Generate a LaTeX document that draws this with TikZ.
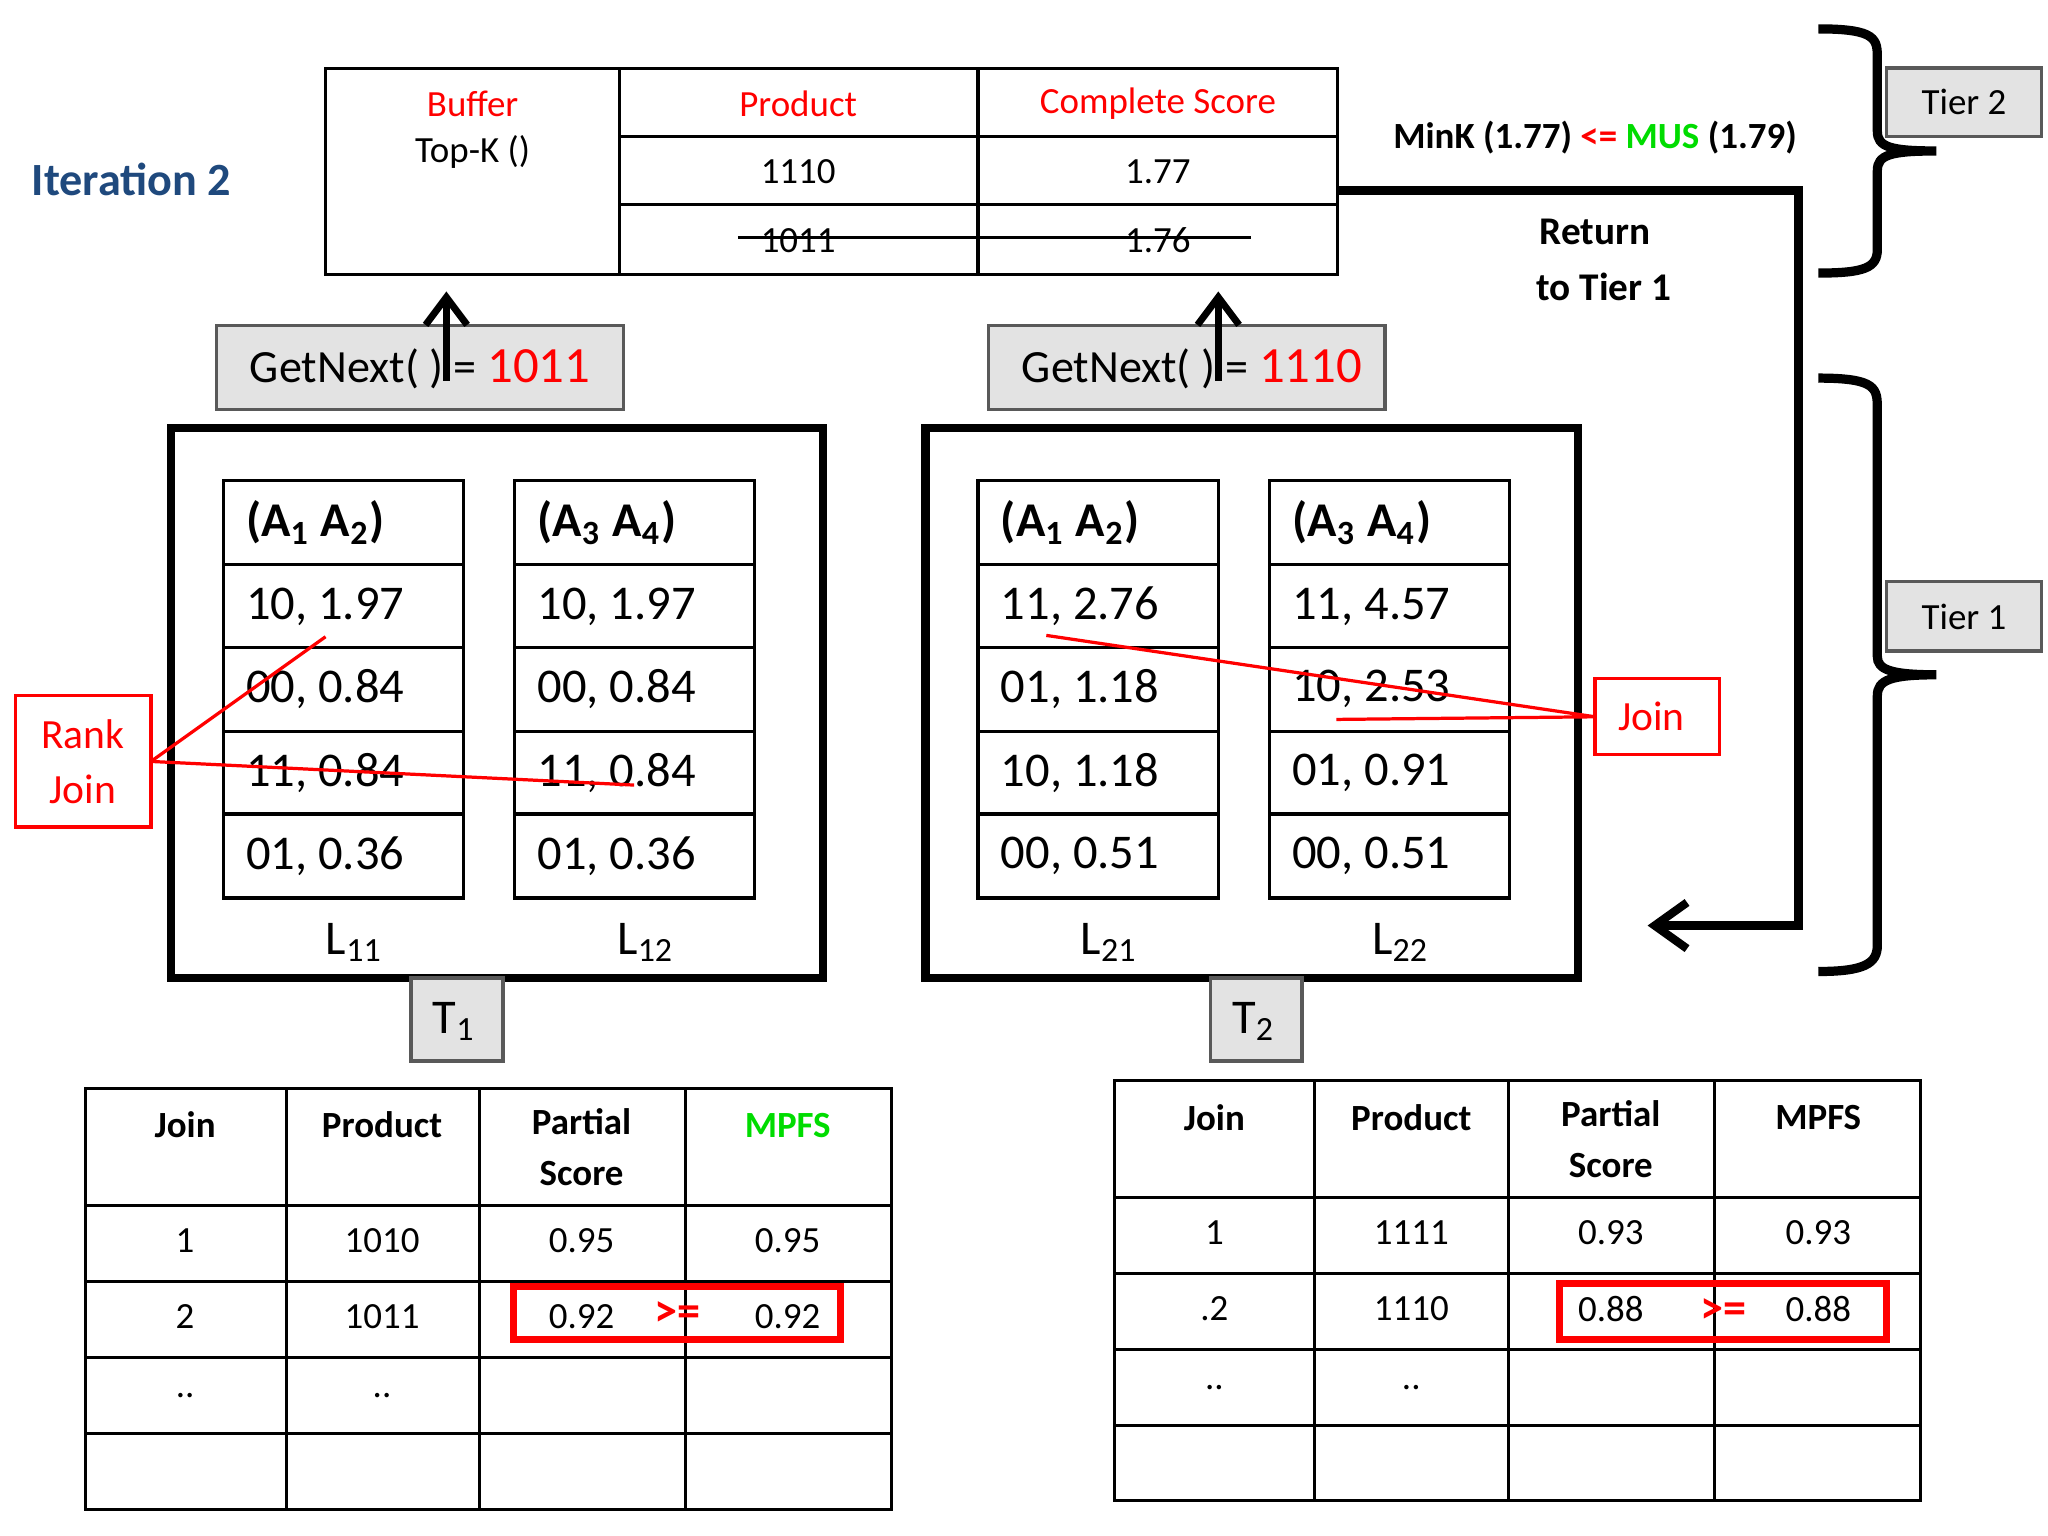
\documentclass[tikz,border=0pt]{standalone}
\usepackage{fontspec}
\setmainfont{Carlito}
\usetikzlibrary{arrows.meta}
\definecolor{itblue}{RGB}{31,73,125}
\definecolor{mygreen}{RGB}{0,220,0}
\newcommand{\sbs}[1]{\textsubscript{#1}}
\begin{document}
\begin{tikzpicture}[x=0.01cm,y=-0.01cm,
  gbox/.style={draw=gray!70!black,fill=gray!22,line width=0.8pt},
  thin/.style={line width=0.7pt},
  big/.style={font=\fontsize{10.5}{13}\selectfont},
  med/.style={font=\fontsize{8}{10}\selectfont},
  rl/.style={red,line width=0.7pt}]
\useasboundingbox (0,0) rectangle (1560,1170);
\node[font=\fontsize{10}{12}\selectfont\bfseries,text=itblue] (it) at (100,137) {Iteration 2};
% top table
\draw[thin] (248,52) rectangle (1019,209);
\draw[thin] (472,52)--(472,209) (745,52)--(745,209) (472,104)--(1019,104) (472,156)--(1019,156);
\node[med,red] (buf) at (360,79) {Buffer};
\node[med] (topk) at (360,116) {Top-K ()};
\node[med,red] (prod) at (608,79) {Product};
\node[med,red] (cs) at (882,79) {Complete Score};
\node[med] (p1) at (608,131) {1110};
\node[med] (s1) at (882,131) {1.77};
\node[med] (p2) at (608,183) {1011};
\node[med] (s2) at (882,183) {1.76};
\draw[thin] (562,181)--(953,181);
\node[font=\fontsize{8}{10}\selectfont\bfseries] (mink) at (1215,105) {MinK (1.77) \textcolor{red}{<=} \textcolor{mygreen}{MUS} (1.79)};
\node[font=\fontsize{8.5}{12}\selectfont\bfseries,align=center] (ret) at (1215,198) {Return\\\ \ to Tier 1};
\coordinate (r1) at (1019,145); \coordinate (r2) at (1370,145); \coordinate (r3) at (1370,705); \coordinate (r4) at (1255,705);
\draw[line width=1.8pt,-{Straight Barb[length=7pt,width=10pt]}] (r1)--(r2)--(r3)--(r4);
% braces
\draw[line width=2pt] (1385,22) .. controls (1430,22) and (1430,30) .. (1430,45) -- (1430,100) .. controls (1430,112) and (1440,115) .. (1475,115)
  (1475,115) .. controls (1440,115) and (1430,118) .. (1430,130) -- (1430,190) .. controls (1430,204) and (1420,208) .. (1385,208);
\draw[line width=2pt] (1385,288) .. controls (1430,288) and (1430,296) .. (1430,312) -- (1430,500) .. controls (1430,510) and (1440,514) .. (1475,514)
  (1475,514) .. controls (1440,514) and (1430,518) .. (1430,530) -- (1430,720) .. controls (1430,734) and (1420,740) .. (1385,740);
\draw[gbox] (1437,52) rectangle (1555,104); \node[med] (t2l) at (1496,78) {Tier 2};
\draw[gbox] (1437,443) rectangle (1555,496); \node[med] (t1l) at (1496,470) {Tier 1};
% getnext
\draw[gbox] (165,248) rectangle (475,312);
\node[font=\fontsize{10}{12}\selectfont,anchor=west] (g1) at (178,281) {GetNext( ) = \textcolor{red}{\fontsize{11}{12}\selectfont 1011}};
\draw[gbox] (753,248) rectangle (1055,312);
\node[font=\fontsize{10}{12}\selectfont,anchor=west] (g2) at (766,281) {GetNext( ) = \textcolor{red}{\fontsize{11}{12}\selectfont 1110}};
\coordinate (a1) at (340,290); \coordinate (a1t) at (340,222);
\coordinate (a2) at (928,290); \coordinate (a2t) at (928,222);
\draw[line width=1.5pt,-{Straight Barb[length=6pt,width=9pt]}] (a1)--(a1t);
\draw[line width=1.5pt,-{Straight Barb[length=6pt,width=9pt]}] (a2)--(a2t);
% big boxes
\draw[line width=1.8pt] (130,326) rectangle (627,745);
\draw[line width=1.8pt] (705,326) rectangle (1202,745);
\foreach \x/\h/\a/\b/\c/\d/\lab in {
 170/{(A\sbs{1} A\sbs{2})}/{10, 1.97}/{00, 0.84}/{11, 0.84}/{01, 0.36}/{L\sbs{11}},
 392/{(A\sbs{3} A\sbs{4})}/{10, 1.97}/{00, 0.84}/{11, 0.84}/{01, 0.36}/{L\sbs{12}},
 745/{(A\sbs{1} A\sbs{2})}/{11, 2.76}/{01, 1.18}/{10, 1.18}/{00, 0.51}/{L\sbs{21}},
 967/{(A\sbs{3} A\sbs{4})}/{11, 4.57}/{10, 2.53}/{01, 0.91}/{00, 0.51}/{L\sbs{22}}}{
 \draw[thin] (\x,366) rectangle (\x+183,684);
 \foreach \yy in {430,493,557,620} {\draw[thin] (\x,\yy)--(\x+183,\yy);}
 \node[anchor=west,font=\fontsize{10.5}{13}\selectfont\bfseries] at (\x+5,398) {\h};
 \node[big,anchor=west] at (\x+5,462) {\a};
 \node[big,anchor=west] at (\x+5,525) {\b};
 \node[big,anchor=west] at (\x+5,589) {\c};
 \node[big,anchor=west] at (\x+5,652) {\d};
 \node[big] at (\x+100,718) {\lab};
}
\draw[gbox] (313,745) rectangle (383,808); \node[big] (T1) at (346,778) {T\sbs{1}};
\draw[gbox] (922,745) rectangle (992,808); \node[big] (T2) at (955,778) {T\sbs{2}};
% rank join
\draw[rl] (12,530) rectangle (115,630);
\node[font=\fontsize{9}{12}\selectfont,red,align=center] (rj) at (63,580) {Rank\\Join};
\coordinate (rjp) at (115,580); \coordinate (e1) at (248,485); \coordinate (e2) at (483,598);
\draw[rl] (rjp)--(e1) (rjp)--(e2);
\draw[rl] (1215,517) rectangle (1310,575);
\node[font=\fontsize{9}{12}\selectfont,red] (jn) at (1258,546) {Join};
\coordinate (jp) at (1215,546); \coordinate (f1) at (797,484); \coordinate (f2) at (1018,548);
\draw[rl] (jp)--(f1) (jp)--(f2);
% bottom tables
\begin{scope}[med]
\draw[thin] (65,829) rectangle (679,1150);
\foreach \x in {218,365,522} \draw[thin] (\x,829)--(\x,1150);
\foreach \y in {918,976,1034,1092} \draw[thin] (65,\y)--(679,\y);
\node[font=\fontsize{8}{10}\selectfont\bfseries] at (141,857) {Join};
\node[font=\fontsize{8}{10}\selectfont\bfseries] at (291,857) {Product};
\node[font=\fontsize{8}{11}\selectfont\bfseries,align=center] at (443,874) {Partial\\Score};
\node[font=\fontsize{8}{10}\selectfont\bfseries,text=mygreen] at (600,857) {MPFS};
\node at (141,945) {1}; \node at (291,945) {1010}; \node at (443,945) {0.95}; \node at (600,945) {0.95};
\node at (141,1003) {2}; \node at (291,1003) {1011}; \node at (443,1003) {0.92}; \node at (600,1003) {0.92};
\node[red,font=\fontsize{10}{10}\selectfont\bfseries] at (516,1001) {>=};
\draw[red,line width=1.5pt] (391,980) rectangle (640,1020);
\node at (141,1063) {..}; \node at (291,1063) {..};
\draw[thin] (849,823) rectangle (1463,1143);
\foreach \x in {1001,1149,1306} \draw[thin] (\x,823)--(\x,1143);
\foreach \y in {912,970,1028,1086} \draw[thin] (849,\y)--(1463,\y);
\node[font=\fontsize{8}{10}\selectfont\bfseries] at (925,851) {Join};
\node[font=\fontsize{8}{10}\selectfont\bfseries] at (1075,851) {Product};
\node[font=\fontsize{8}{11}\selectfont\bfseries,align=center] at (1227,868) {Partial\\Score};
\node[font=\fontsize{8}{10}\selectfont\bfseries] at (1385,851) {MPFS};
\node at (925,939) {1}; \node at (1075,939) {1111}; \node at (1227,939) {0.93}; \node at (1385,939) {0.93};
\node at (925,997) {.2}; \node at (1075,997) {1110}; \node at (1227,997) {0.88}; \node at (1385,997) {0.88};
\node[red,font=\fontsize{10}{10}\selectfont\bfseries] at (1313,999) {>=};
\draw[red,line width=1.5pt] (1188,978) rectangle (1437,1020);
\node at (925,1057) {..}; \node at (1075,1057) {..};
\end{scope}
\end{tikzpicture}
\end{document}
